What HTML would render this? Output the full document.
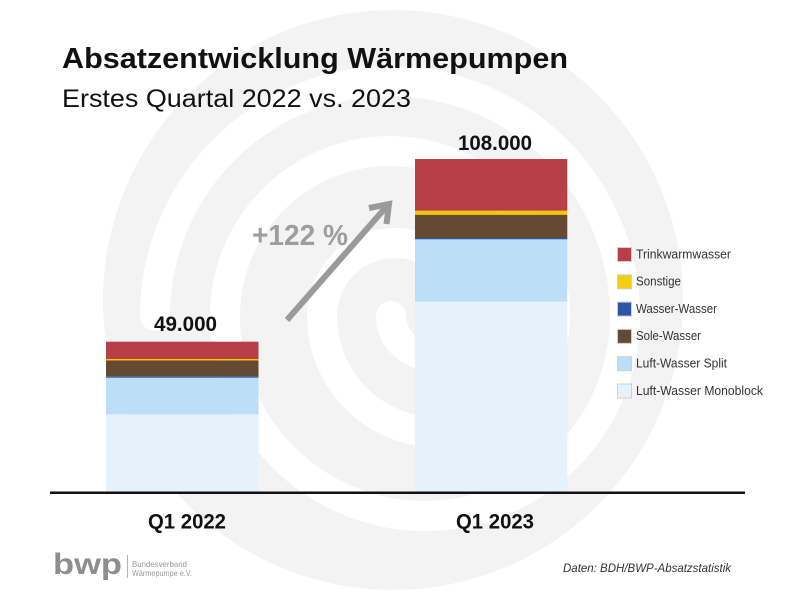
<!DOCTYPE html>
<html>
<head>
<meta charset="utf-8">
<style>
  html, body { margin: 0; padding: 0; background: #ffffff; }
  body { width: 800px; height: 600px; overflow: hidden; }
  svg { display: block; }
  text { font-family: "Liberation Sans", sans-serif; }
</style>
</head>
<body>
<svg width="800" height="600" viewBox="0 0 800 600" xmlns="http://www.w3.org/2000/svg">
  <rect x="0" y="0" width="800" height="600" fill="#ffffff"/>

  <!-- background spiral -->
  <circle cx="393" cy="300" r="290" fill="#f2f3f2"/>
  <path d="M 155 316
           A 235 235 0 0 1 625 316
           A 200 200 0 0 1 225 316
           A 165 165 0 0 1 555 316
           A 116.5 116.5 0 0 1 322 316
           A 73 73 0 0 1 468 316
           A 38.5 38.5 0 0 1 391 316"
        fill="none" stroke="#ffffff" stroke-width="30" stroke-linecap="round"/>

  <!-- title -->
  <text x="62" y="68" font-size="29" font-weight="bold" fill="#111111" textLength="506" lengthAdjust="spacingAndGlyphs">Absatzentwicklung Wärmepumpen</text>
  <text x="62" y="107" font-size="25" fill="#111111" textLength="349" lengthAdjust="spacingAndGlyphs">Erstes Quartal 2022 vs. 2023</text>

  <!-- bar 1 -->
  <rect x="106" y="414.3" width="152.5" height="77.7" fill="#e6f2fb"/>
  <rect x="106" y="377.7" width="152.5" height="36.6" fill="#bcdff8"/>
  <rect x="106" y="376.3" width="152.5" height="1.4" fill="#2b56a5"/>
  <rect x="106" y="360.3" width="152.5" height="16" fill="#654a33"/>
  <rect x="106" y="359" width="152.5" height="1.3" fill="#f5c800"/>
  <rect x="106" y="341.7" width="152.5" height="17.3" fill="#b83f47"/>

  <!-- bar 2 -->
  <rect x="415" y="301.7" width="152.3" height="190.3" fill="#e6f2fb"/>
  <rect x="415" y="239.3" width="152.3" height="62.4" fill="#bcdff8"/>
  <rect x="415" y="238" width="152.3" height="1.3" fill="#2b56a5"/>
  <rect x="415" y="214.7" width="152.3" height="23.3" fill="#654a33"/>
  <rect x="415" y="210.7" width="152.3" height="4" fill="#f5c800"/>
  <rect x="415" y="159" width="152.3" height="51.7" fill="#b83f47"/>

  <!-- value labels -->
  <text x="154" y="331" font-size="21" font-weight="bold" fill="#111111" textLength="63" lengthAdjust="spacingAndGlyphs">49.000</text>
  <text x="458" y="150" font-size="21" font-weight="bold" fill="#111111" textLength="74" lengthAdjust="spacingAndGlyphs">108.000</text>

  <!-- axis -->
  <rect x="50" y="491.5" width="695" height="2.5" fill="#111111"/>

  <!-- category labels -->
  <text x="148" y="528.3" font-size="21" font-weight="bold" fill="#111111" textLength="78" lengthAdjust="spacingAndGlyphs">Q1 2022</text>
  <text x="456" y="528.3" font-size="21" font-weight="bold" fill="#111111" textLength="78" lengthAdjust="spacingAndGlyphs">Q1 2023</text>

  <!-- growth arrow -->
  <line x1="287" y1="320" x2="387" y2="206" stroke="#9a9a9a" stroke-width="6"/>
  <polyline points="369,208 389,204 386.5,224" fill="none" stroke="#9a9a9a" stroke-width="6" stroke-linejoin="miter"/>
  <text x="252" y="245" font-size="29" font-weight="bold" fill="#9d9d9d" textLength="96" lengthAdjust="spacingAndGlyphs">+122 %</text>

  <!-- legend -->
  <g stroke="#cfcfcf" stroke-width="1">
    <rect x="617.5" y="247.5" width="14" height="14" fill="#b83f47"/>
    <rect x="617.5" y="274.8" width="14" height="14" fill="#f5cd10"/>
    <rect x="617.5" y="302.1" width="14" height="14" fill="#2b56a5"/>
    <rect x="617.5" y="329.4" width="14" height="14" fill="#654a33"/>
    <rect x="617.5" y="356.7" width="14" height="14" fill="#bcdff8"/>
    <rect x="617.5" y="384" width="14" height="14" fill="#e6f2fb"/>
  </g>
  <g font-size="12.5" fill="#333333">
    <text x="636" y="258.3" textLength="95" lengthAdjust="spacingAndGlyphs">Trinkwarmwasser</text>
    <text x="636" y="285.6" textLength="45" lengthAdjust="spacingAndGlyphs">Sonstige</text>
    <text x="636" y="312.9" textLength="81" lengthAdjust="spacingAndGlyphs">Wasser-Wasser</text>
    <text x="636" y="340.2" textLength="65" lengthAdjust="spacingAndGlyphs">Sole-Wasser</text>
    <text x="636" y="367.5" textLength="91" lengthAdjust="spacingAndGlyphs">Luft-Wasser Split</text>
    <text x="636" y="394.8" textLength="127" lengthAdjust="spacingAndGlyphs">Luft-Wasser Monoblock</text>
  </g>

  <!-- logo -->
  <text x="53" y="574" font-size="30" font-weight="bold" fill="#8e8e8e" textLength="69" lengthAdjust="spacingAndGlyphs">bwp</text>
  <rect x="127" y="555" width="1" height="23" fill="#b5b5b5"/>
  <text x="132" y="567" font-size="8.5" fill="#9a9a9a" textLength="55" lengthAdjust="spacingAndGlyphs">Bundesverband</text>
  <text x="132" y="576" font-size="8.5" fill="#9a9a9a" textLength="60" lengthAdjust="spacingAndGlyphs">Wärmepumpe e.V.</text>

  <!-- source -->
  <text x="563" y="572" font-size="12" font-style="italic" fill="#333333" textLength="168" lengthAdjust="spacingAndGlyphs">Daten: BDH/BWP-Absatzstatistik</text>
</svg>
</body>
</html>
